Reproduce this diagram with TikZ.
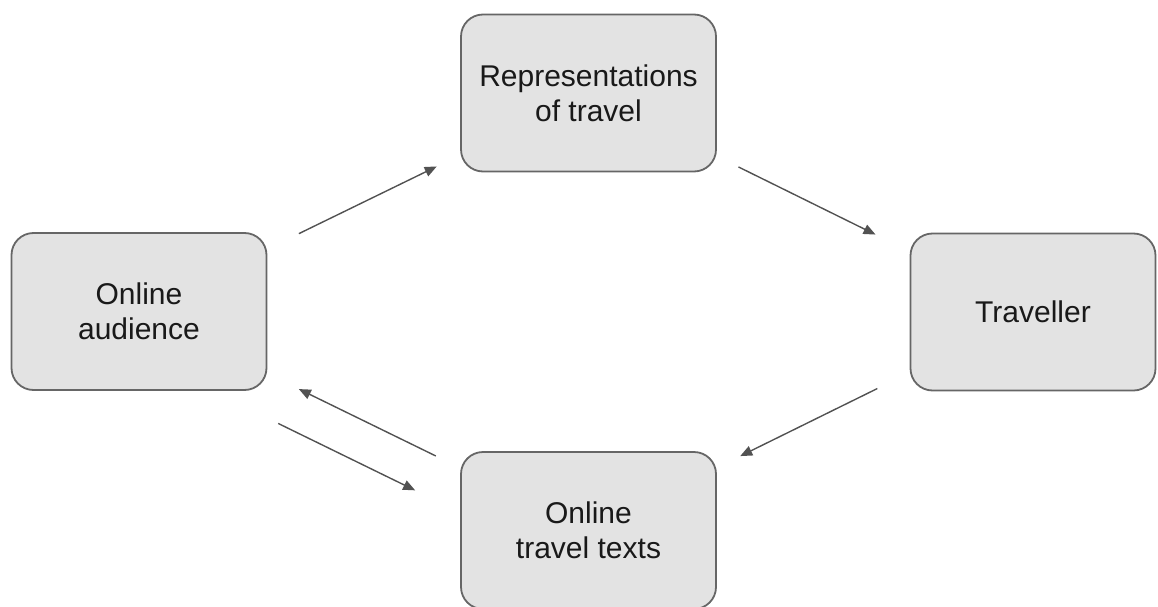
\documentclass[tikz,border=0pt]{standalone}
\usepackage{fontspec}
\setmainfont{Liberation Sans}
\usetikzlibrary{arrows.meta, positioning}

\begin{document}
\begin{tikzpicture}[
  x=1pt, y=-1pt,
  box/.style={
    draw=black!60, fill=black!11, line width=1.8pt, rounded corners=22pt,
    align=center, font=\fontsize{30}{35}\selectfont, text=black!90,
    minimum width=255pt, minimum height=157pt, inner sep=0pt
  },
  flow/.style={
    -{Triangle[length=12pt, width=10pt]},
    line width=1.4pt, draw=black!68
  }
]
\useasboundingbox (0,0) rectangle (1158,607);

% --- boxes ---
\node[box] (rep) at (588.5,93) {Representations\\of travel};
\node[box] (aud) at (139,311.5) {Online\\audience};
\node[box, minimum width=245pt] (trav) at (1033,312) {Traveller};
\node[box] (texts) at (588.5,530.5) {Online\\travel texts};

% --- cycle ---
\draw[flow, shorten <=35pt, shorten >=26pt] (aud) -- (rep);
\draw[flow, shorten <=24pt, shorten >=38pt] (rep) -- (trav);
\draw[flow, shorten <=36pt, shorten >=26pt] (trav) -- (texts);
\draw[flow, shorten <=27pt, shorten >=35pt] (texts) -- (aud);
\draw[flow, shorten <=12pt, shorten >=50pt, transform canvas={yshift=-44pt}]
  (aud) -- (texts);

\end{tikzpicture}
\end{document}
